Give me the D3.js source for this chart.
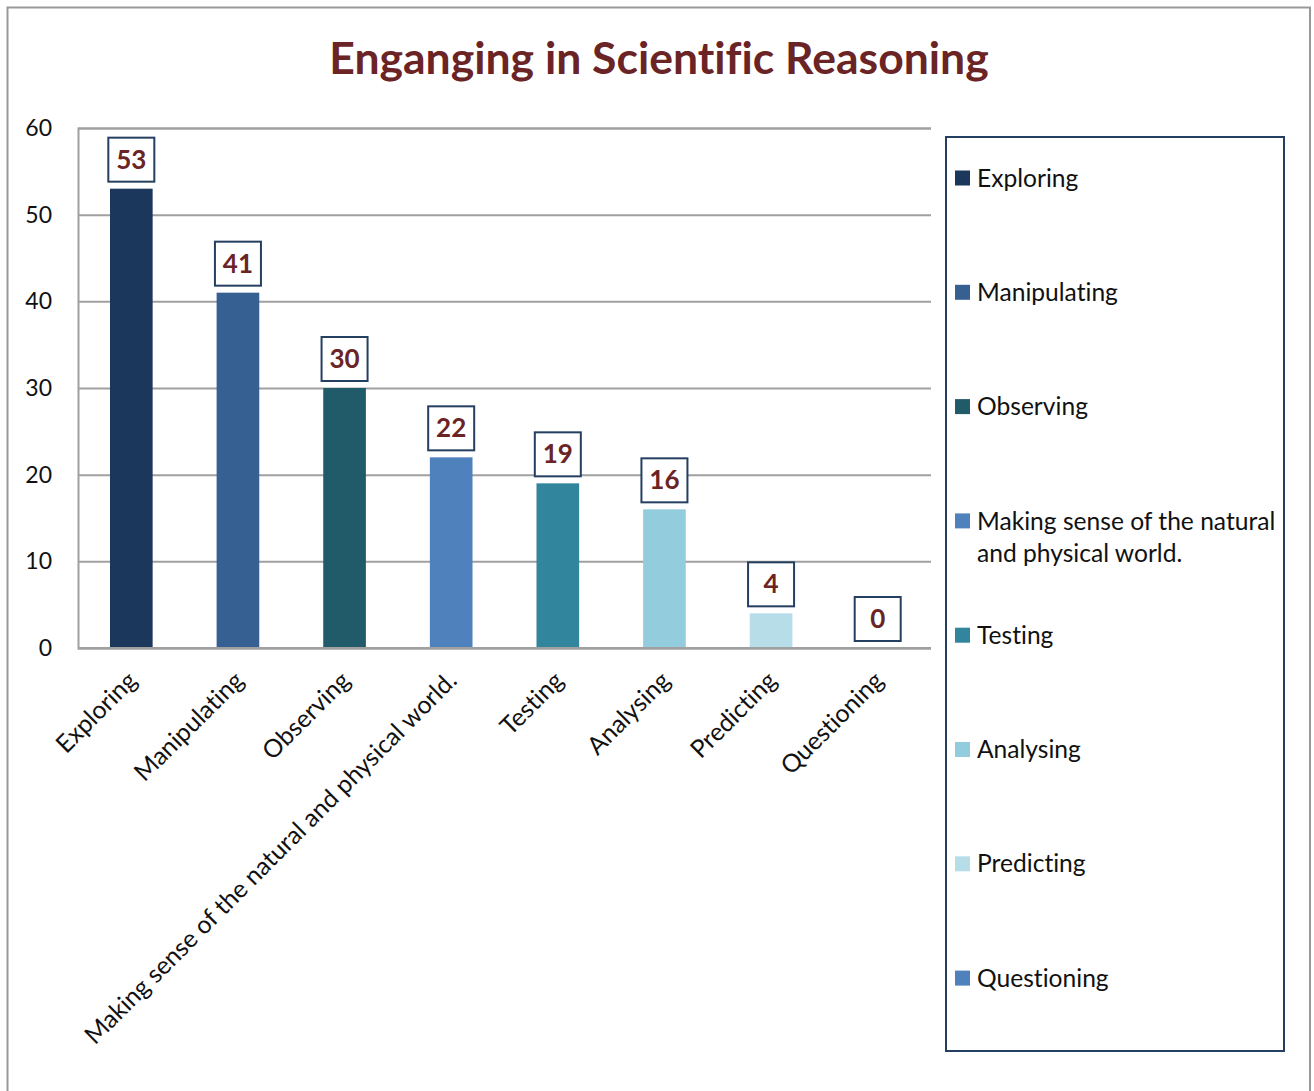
<!DOCTYPE html>
<html>
<head>
<meta charset="utf-8">
<script src="https://cdn.jsdelivr.net/npm/d3@7"></script>
<style>
  html, body { margin: 0; padding: 0; background: #fff; }
  svg { display: block; }
  text { font-family: Lato, "Open Sans", sans-serif; font-variant-ligatures: none; }
</style>
</head>
<body>
<svg id="chart" width="1314" height="1091"></svg>
<script>
// Chart data
const categories = ["Exploring", "Manipulating", "Observing", "Making sense of the natural and physical world.", "Testing", "Analysing", "Predicting", "Questioning"];
const values = [53, 41, 30, 22, 19, 16, 4, 0];
const barColors = ["#1B375C", "#376092", "#215A68", "#4F81BD", "#31859C", "#93CDDD", "#B7DEE8", "#4F81BD"];
const yTicks = [0, 10, 20, 30, 40, 50, 60];
const title = "Enganging in Scientific Reasoning";

const svg = d3.select("#chart");
const W = 1314, H = 1091;

svg.append("rect").attr("width", W).attr("height", H).attr("fill", "#fff");

// outer chart frame
svg.append("rect")
  .attr("x", 7.5).attr("y", 7.5)
  .attr("width", 1302.5).attr("height", 1200)
  .attr("fill", "none").attr("stroke", "#999").attr("stroke-width", 2);

// title
svg.append("text")
  .attr("x", 659).attr("y", 74)
  .attr("text-anchor", "middle")
  .attr("font-size", 44.5).attr("font-weight", 700)
  .attr("fill", "#6B2425")
  .text(title);

const plot = { left: 78, right: 931, top: 128, bottom: 648 };

const x = d3.scaleBand()
  .domain(categories)
  .range([plot.left, plot.right])
  .paddingInner(0.6)
  .paddingOuter(0.3);

const y = d3.scaleLinear()
  .domain([0, 60])
  .range([plot.bottom, plot.top]);

// gridlines and value axis
const yAxis = d3.axisLeft(y).tickValues(yTicks).tickSize(-(plot.right - plot.left)).tickPadding(26);
const gy = svg.append("g").attr("transform", `translate(${plot.left},0)`).call(yAxis);
gy.select(".domain").attr("stroke", "#a0a0a0").attr("stroke-width", 2);
gy.selectAll(".tick line").attr("stroke", "#a0a0a0").attr("stroke-width", 2);
gy.selectAll(".tick text")
  .attr("font-size", 23).attr("fill", "#111")
  .attr("font-family", "Lato, sans-serif");

// bars
svg.append("g").selectAll("rect")
  .data(values)
  .join("rect")
  .attr("x", (d, i) => x(categories[i]))
  .attr("y", d => y(d))
  .attr("width", x.bandwidth())
  .attr("height", d => y(0) - y(d))
  .attr("fill", (d, i) => barColors[i]);

// baseline
svg.append("line")
  .attr("x1", plot.left).attr("x2", plot.right)
  .attr("y1", y(0)).attr("y2", y(0))
  .attr("stroke", "#a0a0a0").attr("stroke-width", 2);

// value labels in boxes
const lbl = svg.append("g").selectAll("g")
  .data(values)
  .join("g")
  .attr("transform", (d, i) => `translate(${x(categories[i]) + x.bandwidth() / 2},${y(d) - 7})`);
lbl.append("rect")
  .attr("x", -23).attr("y", -44)
  .attr("width", 46).attr("height", 44)
  .attr("fill", "#fff").attr("stroke", "#243F60").attr("stroke-width", 2);
lbl.append("text")
  .attr("y", -22).attr("dy", "0.35em")
  .attr("text-anchor", "middle")
  .attr("font-size", 26).attr("font-weight", 700)
  .attr("fill", "#6B2425")
  .text(d => d);

// rotated category labels
svg.append("g").selectAll("text")
  .data(categories)
  .join("text")
  .attr("transform", d => `translate(${x(d) + x.bandwidth() / 2 + 1},${676}) rotate(-45)`)
  .attr("text-anchor", "end")
  .attr("dy", "0.35em")
  .attr("font-size", 24.8)
  .attr("fill", "#111")
  .text(d => d);

// legend
const legend = { x: 946, y: 137, w: 338, h: 914 };
svg.append("rect")
  .attr("x", legend.x).attr("y", legend.y)
  .attr("width", legend.w).attr("height", legend.h)
  .attr("fill", "#fff").attr("stroke", "#243F60").attr("stroke-width", 2);

const itemStep = 114.3;
const firstY = 178;
const textX = 977;
const maxW = 305;

categories.forEach((name, i) => {
  const cy = firstY + i * itemStep;
  svg.append("rect")
    .attr("x", 955).attr("y", cy - 7.5)
    .attr("width", 15).attr("height", 15)
    .attr("fill", barColors[i]);
  const t = svg.append("text")
    .attr("x", textX).attr("y", cy)
    .attr("dy", "0.35em")
    .attr("font-size", 24.6).attr("fill", "#111");
  // wrap long entries onto extra lines
  const words = name.split(" ");
  let line = [];
  let tspan = t.append("tspan").attr("x", textX);
  words.forEach(w => {
    line.push(w);
    tspan.text(line.join(" "));
    if (tspan.node().getComputedTextLength() > maxW && line.length > 1) {
      line.pop();
      tspan.text(line.join(" "));
      line = [w];
      tspan = t.append("tspan").attr("x", textX).attr("dy", 32).text(w);
    }
  });
});
</script>
</body>
</html>
